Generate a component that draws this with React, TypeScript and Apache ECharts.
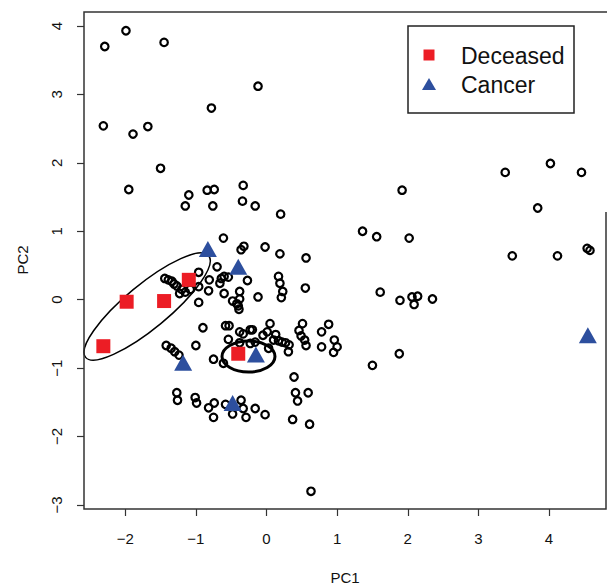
import React, { useEffect, useRef } from "react";
import * as echarts from "echarts";

// Open circles: all samples (PC1, PC2)
const samples: number[][] = [
  [-2.29, 3.7], [-1.99, 3.93], [-1.45, 3.76], [-0.12, 3.12], [-0.78, 2.8], [-2.31, 2.54], [-1.89, 2.42],
  [-1.68, 2.53], [-1.5, 1.92], [-1.95, 1.61], [-1.1, 1.53], [-1.15, 1.37], [-0.84, 1.6], [-0.74, 1.61],
  [-0.76, 1.37], [-0.33, 1.67], [-0.34, 1.44], [-0.16, 1.37], [0.2, 1.25],
  [-0.61, 0.9], [-0.36, 0.73], [-0.32, 0.78], [-0.02, 0.77], [0.19, 0.67], [0.56, 0.61], [-0.96, 0.4],
  [-0.7, 0.48], [-0.81, 0.29], [-0.64, 0.31], [-0.6, 0.34], [-0.54, 0.33], [-0.66, 0.24], [-0.27, 0.28],
  [0.17, 0.34], [0.19, 0.24], [0.23, 0.12], [0.21, 0.03], [0.55, 0.17], [-0.12, 0.04], [-0.38, 0.12],
  [-0.6, 0.09], [-0.82, 0.13], [-0.96, 0.19], [-0.96, -0.04], [-0.48, -0.02], [-0.42, -0.06], [-0.38, 0.01],
  [-0.39, -0.14], [-0.4, -0.09],
  [-1.44, 0.31], [-1.39, 0.29], [-1.34, 0.27], [-1.31, 0.23], [-1.27, 0.2], [-1.2, 0.15], [-1.15, 0.11],
  [-1.08, 0.15], [-1.23, 0.09],
  [1.36, 1.0], [1.56, 0.92], [2.02, 0.9], [1.61, 0.11], [1.89, -0.01], [2.06, 0.04], [2.14, 0.05],
  [2.09, -0.07], [2.35, 0.01], [1.88, -0.79], [1.5, -0.96], [1.92, 1.6],
  [3.38, 1.86], [4.02, 1.99], [4.46, 1.86], [3.84, 1.34], [3.48, 0.64], [4.12, 0.64], [4.54, 0.75], [4.58, 0.72],
  [-0.9, -0.41], [-0.58, -0.38], [-0.53, -0.38], [-0.38, -0.47], [-0.54, -0.58], [-0.23, -0.44], [-0.2, -0.44],
  [-0.23, -0.64], [-0.38, -0.63], [-0.05, -0.52], [0.05, -0.35], [0.01, -0.47], [0.13, -0.51], [0.03, -0.71],
  [0.1, -0.59], [0.17, -0.6], [0.22, -0.62], [0.27, -0.63], [0.32, -0.66], [0.31, -0.76], [0.51, -0.35],
  [0.46, -0.45], [0.49, -0.53], [0.54, -0.59], [0.56, -0.67], [0.78, -0.47], [0.88, -0.36], [0.78, -0.69],
  [0.96, -0.59], [1.0, -0.69], [0.95, -0.77], [-1.42, -0.67], [-1.35, -0.71], [-1.3, -0.76], [-1.24, -0.81],
  [-1.0, -0.67], [-0.75, -0.87], [-0.61, -0.93], [0.39, -1.13], [0.41, -1.36], [0.44, -1.48], [0.59, -1.36],
  [0.37, -1.75], [0.61, -1.82], [-1.27, -1.36], [-1.26, -1.47], [-1.01, -1.43], [-0.99, -1.51], [-0.82, -1.58],
  [-0.74, -1.51], [-0.75, -1.72], [-0.58, -1.53], [-0.48, -1.67], [-0.36, -1.47], [-0.33, -1.59],
  [-0.29, -1.72], [-0.16, -1.59], [-0.02, -1.68], [0.63, -2.8], [-0.33, -0.5], [-0.16, -0.62],
];

const deceased: number[][] = [
  [-2.31, -0.68], [-1.98, -0.03], [-1.45, -0.02], [-1.1, 0.29], [-0.4, -0.79],
];

const cancer: number[][] = [
  [-0.83, 0.74], [-0.4, 0.48], [-1.18, -0.92], [-0.15, -0.8], [-0.48, -1.51], [4.55, -0.52],
];

// ellipses: [centerX, centerY, semiAxisX (PC1 units), semiAxisY (PC1 units), angle deg, lineWidth]
const ellipses: number[][] = [
  [-1.69, -0.1, 1.13, 0.31, 39.6, 1.5],
  [-0.255, -0.83, 0.375, 0.22, 0, 3],
];

const xTicks = [-2, -1, 0, 1, 2, 3, 4];
const yTicks = [-3, -2, -1, 0, 1, 2, 3, 4];
const legendNames = ["Deceased", "Cancer"];

const RED = "#EC1D25";
const BLUE = "#2D4F9E";
const FONT = "Liberation Sans, Arial, Helvetica, sans-serif";

const fmt = (v: number) => String(v).replace("-", "\u2212");

export default function App() {
  const ref = useRef<HTMLDivElement>(null);
  useEffect(() => {
    if (!ref.current) return;
    const chart = echarts.init(ref.current, undefined, { renderer: "svg" });
    chart.setOption({
      animation: false,
      backgroundColor: "#fff",
      grid: { left: 84, top: 12, right: 1, bottom: 75, show: false },
      xAxis: {
        type: "value",
        min: -2.584,
        max: 4.807,
        splitLine: { show: false },
        axisLine: { show: false, onZero: false },
        axisTick: {
          show: true,
          inside: false,
          length: 7,
          customValues: xTicks,
          lineStyle: { color: "#333", width: 1.2 },
        },
        axisLabel: {
          customValues: xTicks,
          formatter: fmt,
          color: "#111",
          fontSize: 15,
          fontFamily: FONT,
          margin: 22,
        },
      },
      yAxis: {
        type: "value",
        min: -3.059,
        max: 4.204,
        splitLine: { show: false },
        axisLine: { show: false, onZero: false },
        axisTick: {
          show: true,
          inside: false,
          length: 7,
          customValues: yTicks,
          lineStyle: { color: "#333", width: 1.2 },
        },
        axisLabel: {
          customValues: yTicks,
          formatter: fmt,
          rotate: 90,
          color: "#111",
          fontSize: 15,
          fontFamily: FONT,
          margin: 20,
        },
      },
      series: [
        {
          type: "scatter",
          data: samples,
          symbol: "circle",
          symbolSize: 7.5,
          itemStyle: { color: "transparent", borderColor: "#000", borderWidth: 2.2, opacity: 1 },
          silent: true,
        },
        {
          type: "custom",
          data: ellipses,
          encode: { x: 0, y: 1 },
          renderItem: (params: any, api: any) => {
            const c = api.coord([api.value(0), api.value(1)]);
            const rx = api.size([api.value(2), 0])[0];
            const ry = api.size([api.value(3), 0])[0];
            return {
              type: "ellipse",
              x: c[0],
              y: c[1],
              rotation: (api.value(4) * Math.PI) / 180,
              shape: { cx: 0, cy: 0, rx, ry },
              style: { fill: "none", stroke: "#000", lineWidth: api.value(5) },
            };
          },
          silent: true,
          z: 3,
        },
        {
          name: legendNames[0],
          type: "scatter",
          data: deceased,
          symbol: "rect",
          symbolSize: 14,
          itemStyle: { color: RED, opacity: 1 },
          z: 4,
        },
        {
          name: legendNames[1],
          type: "scatter",
          data: cancer,
          symbol: "triangle",
          symbolSize: [18, 16],
          itemStyle: { color: BLUE, opacity: 1 },
          z: 5,
        },
      ],
      graphic: [
        {
          type: "polyline",
          shape: { points: [[606, 212], [606, 509], [84, 509], [84, 12], [607, 12]] },
          style: { stroke: "#333", lineWidth: 1.5, fill: "none" },
          z: 10,
        },
        {
          type: "rect",
          shape: { x: 408, y: 26, width: 166, height: 87 },
          style: { fill: "#fff", stroke: "#222", lineWidth: 1.5 },
          z: 10,
        },
        {
          type: "rect",
          shape: { x: 423.5, y: 49.5, width: 11, height: 11 },
          style: { fill: RED },
          z: 11,
        },
        {
          type: "polygon",
          shape: { points: [[422, 90], [436, 90], [429, 78]] },
          style: { fill: BLUE },
          z: 11,
        },
        {
          type: "text",
          x: 461,
          y: 56,
          style: { text: legendNames[0], font: `23px ${FONT}`, fill: "#111", verticalAlign: "middle" },
          z: 11,
        },
        {
          type: "text",
          x: 461,
          y: 85,
          style: { text: legendNames[1], font: `23px ${FONT}`, fill: "#111", verticalAlign: "middle" },
          z: 11,
        },
        {
          type: "text",
          x: 345,
          y: 577,
          style: { text: "PC1", font: `15px ${FONT}`, fill: "#111", align: "center", verticalAlign: "middle" },
        },
        {
          type: "text",
          x: 22,
          y: 260,
          rotation: Math.PI / 2,
          style: { text: "PC2", font: `15px ${FONT}`, fill: "#111", align: "center", verticalAlign: "middle" },
        },
      ],
    });
    return () => chart.dispose();
  }, []);
  return (
    <div
      ref={ref}
      style={{ position: "absolute", left: 0, top: 0, width: 607, height: 584, background: "#fff" }}
    />
  );
}
